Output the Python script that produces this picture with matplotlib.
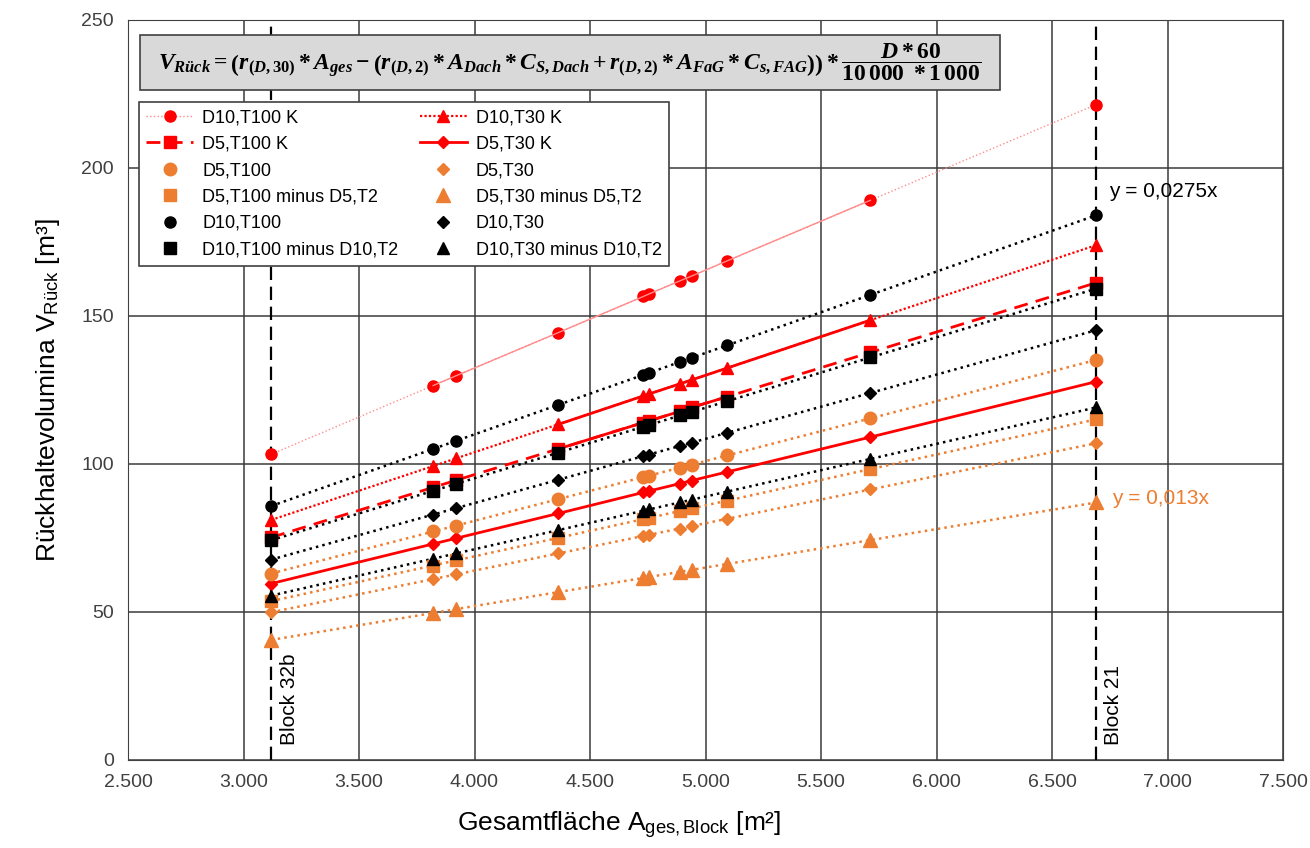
import matplotlib
matplotlib.use("Agg")
import matplotlib.pyplot as plt
import numpy as np
from matplotlib.patches import Rectangle
from matplotlib.ticker import FuncFormatter, MultipleLocator

plt.rcParams['font.family'] = ['Liberation Sans', 'DejaVu Sans']
plt.rcParams['mathtext.fontset'] = 'custom'
plt.rcParams['mathtext.rm'] = 'Liberation Serif:bold'
plt.rcParams['mathtext.it'] = 'Liberation Serif:italic:bold'
plt.rcParams['mathtext.bf'] = 'Liberation Serif:bold'
plt.rcParams['mathtext.sf'] = 'Liberation Sans'

# Gesamtflaeche der Bloecke [m2]
area = np.array([3120, 3821, 3920, 4363, 4731, 4757, 4890, 4940, 5093, 5714, 6690])

# Rueckhaltevolumina [m3]
d10_t100_k = [103.3, 126.5, 129.8, 144.4, 156.6, 157.5, 161.9, 163.5, 168.6, 189.1, 221.4]
d10_t30_k = [81.1, 99.3, 101.9, 113.4, 123.0, 123.7, 127.1, 128.4, 132.4, 148.6, 173.9]
d5_t100_k = [75.2, 92.1, 94.5, 105.1, 114.0, 114.6, 117.8, 119.1, 122.7, 137.7, 161.2]
d5_t30_k = [59.6, 73.0, 74.9, 83.3, 90.4, 90.9, 93.4, 94.4, 97.3, 109.1, 127.8]
d5_t100 = [63.0, 77.2, 79.2, 88.1, 95.6, 96.1, 98.8, 99.8, 102.9, 115.4, 135.1]
d5_t100_minus = [53.7, 65.7, 67.4, 75.0, 81.4, 81.8, 84.1, 85.0, 87.6, 98.3, 115.1]
d5_t30 = [49.9, 61.1, 62.7, 69.8, 75.7, 76.1, 78.2, 79.0, 81.5, 91.4, 107.0]
d5_t30_minus = [40.6, 49.7, 51.0, 56.7, 61.5, 61.8, 63.6, 64.2, 66.2, 74.3, 87.0]
d10_t100 = [85.8, 105.1, 107.8, 120.0, 130.1, 130.8, 134.5, 135.9, 140.1, 157.1, 184.0]
d10_t100_minus = [74.3, 90.9, 93.3, 103.8, 112.6, 113.2, 116.4, 117.6, 121.2, 136.0, 159.2]
d10_t30 = [67.7, 82.9, 85.1, 94.7, 102.7, 103.2, 106.1, 107.2, 110.5, 124.0, 145.2]
d10_t30_minus = [55.5, 68.0, 69.8, 77.7, 84.2, 84.7, 87.0, 87.9, 90.7, 101.7, 119.1]

block_32b = 3120
block_21 = 6690
slope_labels = ["y = 0,0275x", "y = 0,013x"]

RED = '#ff0000'
ORANGE = '#ed7d31'
PINK = '#ff8c8c'

fig = plt.figure(figsize=(13.1, 8.48), dpi=100)
ax = fig.add_axes([128 / 1310, 88 / 848, 1155 / 1310, 740 / 848])

ax.set_xlim(2500, 7500)
ax.set_ylim(0, 250)
ax.xaxis.set_major_locator(MultipleLocator(500))
ax.yaxis.set_major_locator(MultipleLocator(50))
ax.xaxis.set_major_formatter(FuncFormatter(lambda v, p: f"{v:,.0f}".replace(',', '.')))
ax.grid(True, color='#3a3a3a', lw=1.1)
ax.set_axisbelow(True)
ax.tick_params(labelsize=14, length=0, pad=10, colors='#404040')
for s in ax.spines.values():
    s.set_color('#404040')

# Blockgrenzen
for bx, name in [(block_32b, 'Block 32b'), (block_21, 'Block 21')]:
    ax.axvline(bx, color='black', lw=1.6, dashes=(6, 3), zorder=2)
    ax.annotate(name, xy=(bx, 5), xytext=(6, 0), textcoords='offset points',
                rotation=90, ha='left', va='bottom', fontsize=15)

# Trendlinien (durch den Ursprung) fuer die nicht-K Reihen
def trend(y, color):
    y = np.asarray(y)
    k = np.sum(area * y) / np.sum(area * area)
    xs = np.array([area.min(), area.max()])
    ax.plot(xs, k * xs, color=color, lw=1.8, ls=':', zorder=3)

for ys, c in [(d5_t100, ORANGE), (d5_t100_minus, ORANGE), (d5_t30, ORANGE),
              (d5_t30_minus, ORANGE), (d10_t100, 'black'), (d10_t100_minus, 'black'),
              (d10_t30, 'black'), (d10_t30_minus, 'black')]:
    trend(ys, c)

# K-Reihen (rot)
h1, = ax.plot(area, d10_t100_k, color=PINK, lw=1.0, ls=':', marker='o', ms=8,
              mfc=RED, mec=RED, label='D10,T100 K', zorder=4)
ax.plot(area[1:10], d10_t100_k[1:10], color=PINK, lw=1.0, zorder=4)
h2, = ax.plot(area, d5_t100_k, color=RED, lw=2.0, dashes=(5, 3), marker='s', ms=8,
              label='D5,T100 K', zorder=4)
ax.plot(area[3:9], d5_t100_k[3:9], color=RED, lw=2.0, zorder=4)
h7, = ax.plot(area, d10_t30_k, color=RED, lw=1.6, ls=(0, (1, 1)), marker='^', ms=9,
              label='D10,T30 K', zorder=4)
ax.plot(area[3:10], d10_t30_k[3:10], color=RED, lw=2.0, zorder=4)
h8, = ax.plot(area, d5_t30_k, color=RED, lw=2.0, marker='D', ms=6,
              label='D5,T30 K', zorder=4)

# Einzelpunkte
h3, = ax.plot(area, d5_t100, ls='none', marker='o', ms=9, color=ORANGE, label='D5,T100', zorder=5)
h4, = ax.plot(area, d5_t100_minus, ls='none', marker='s', ms=9, color=ORANGE,
              label='D5,T100 minus D5,T2', zorder=5)
h9, = ax.plot(area, d5_t30, ls='none', marker='D', ms=6.5, color=ORANGE, label='D5,T30', zorder=5)
h10, = ax.plot(area, d5_t30_minus, ls='none', marker='^', ms=9.5, color=ORANGE,
               label='D5,T30 minus D5,T2', zorder=5)
h5, = ax.plot(area, d10_t100, ls='none', marker='o', ms=8, color='black', label='D10,T100', zorder=5)
h6, = ax.plot(area, d10_t100_minus, ls='none', marker='s', ms=9, color='black',
              label='D10,T100 minus D10,T2', zorder=5)
h11, = ax.plot(area, d10_t30, ls='none', marker='D', ms=6, color='black', label='D10,T30', zorder=5)
h12, = ax.plot(area, d10_t30_minus, ls='none', marker='^', ms=9, color='black',
               label='D10,T30 minus D10,T2', zorder=5)

handles = [h1, h2, h3, h4, h5, h6, h7, h8, h9, h10, h11, h12]
leg = ax.legend(handles=handles, ncol=2, loc='upper left', bbox_to_anchor=(0.0095, 0.889),
                borderaxespad=0, fontsize=13, frameon=True, fancybox=False, framealpha=1,
                edgecolor='#404040', handlelength=2.6, handletextpad=0.5,
                columnspacing=1.2, labelspacing=0.52, borderpad=0.4)
leg.get_frame().set_linewidth(1.2)
leg.set_zorder(10)

# Formel
ax.add_patch(Rectangle((0.0104, 0.905), 0.745, 0.075, transform=ax.transAxes,
                       facecolor='#d9d9d9', edgecolor='#404040', lw=1.2, zorder=10))
formula = (r'$V_{Rück} = \left(r_{(D,30)} * A_{ges} - \left(r_{(D,2)} * A_{Dach} * C_{S,Dach}'
           r' + r_{(D,2)} * A_{FaG} * C_{s,FAG}\right)\right) * \dfrac{D * 60}{10\,000\ * 1\,000}$')
ax.text(0.382, 0.9425, formula, transform=ax.transAxes, ha='center', va='center',
        fontsize=17, zorder=11)

# Steigungen
ax.text(6745, 192, slope_labels[0], fontsize=15, color='black', va='center')
ax.text(6760, 88.5, slope_labels[1], fontsize=15, color=ORANGE, va='center')

ax.set_ylabel('Rückhaltevolumina V$_{\\mathsf{Rück}}$ [m³]', fontsize=19, labelpad=14)
ax.set_xlabel('Gesamtfläche A$_{\\mathsf{ges,Block}}$ [m²]', fontsize=19)
ax.xaxis.set_label_coords(0.425, -0.068)

fig.savefig('out.png', dpi=100)
